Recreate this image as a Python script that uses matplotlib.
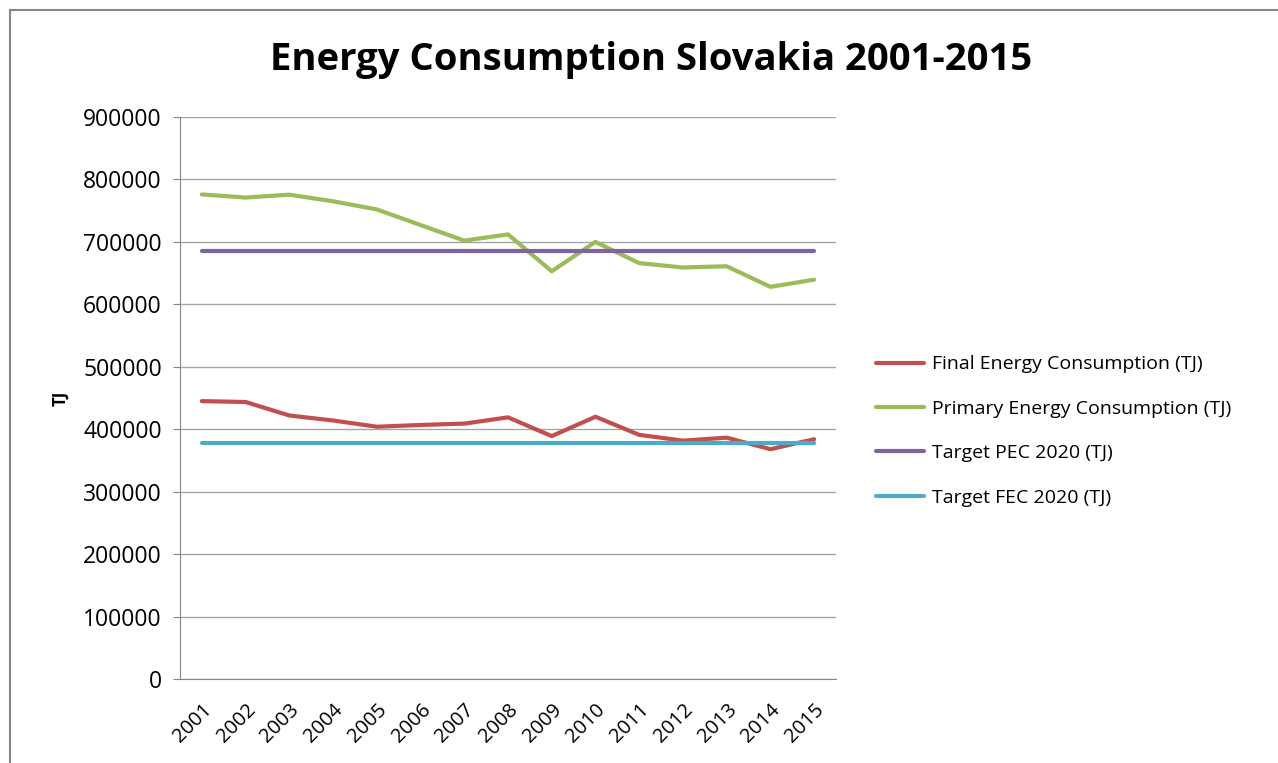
import matplotlib.pyplot as plt
from matplotlib.patches import Rectangle

years = ['2001', '2002', '2003', '2004', '2005', '2006', '2007', '2008',
         '2009', '2010', '2011', '2012', '2013', '2014', '2015']
final_ec = [445000, 443600, 422000, 414000, 404000, 406800, 409000, 419000,
            389000, 420000, 391000, 381700, 386500, 368000, 384000]
primary_ec = [776000, 771000, 775600, 765000, 752000, 727000, 702000, 712000,
              653000, 700000, 666000, 659000, 661000, 628000, 639500]
target_pec = 686000
target_fec = 378000

plt.rcParams['font.family'] = ['Open Sans', 'DejaVu Sans']

fig = plt.figure(figsize=(12.78, 7.63), dpi=100)
W, H = 1278, 763

# outer chart frame
fig.patches.append(Rectangle((10 / W, -0.05), 1.2, 1 - 10 / H + 0.05,
                             transform=fig.transFigure, fill=False,
                             edgecolor='#868686', lw=1.5))

ax = fig.add_axes([180 / W, (H - 679) / H, (836 - 180) / W, (679 - 117) / H])

x = list(range(len(years)))
ax.plot(x, final_ec, color='#C0504D', lw=3, label='Final Energy Consumption (TJ)', solid_capstyle='round')
ax.plot(x, primary_ec, color='#9BBB59', lw=3, label='Primary Energy Consumption (TJ)', solid_capstyle='round')
ax.plot(x, [target_pec] * len(x), color='#8064A2', lw=3, label='Target PEC 2020 (TJ)', solid_capstyle='round')
ax.plot(x, [target_fec] * len(x), color='#4BACC6', lw=3, label='Target FEC 2020 (TJ)', solid_capstyle='round')

ax.set_xlim(-0.5, len(years) - 0.5)
ax.set_ylim(0, 900000)
ax.set_yticks(range(0, 900001, 100000))
ax.set_yticklabels([str(v) for v in range(0, 900001, 100000)], fontsize=16.5)
ax.set_xticks(x)
ax.set_xticklabels(years, fontsize=14.5, rotation=45, ha='right',
                   rotation_mode='anchor')
ax.tick_params(axis='x', length=0, pad=15)
ax.tick_params(axis='y', length=5, color='#868686', pad=8)

ax.grid(axis='y', color='#a6a6a6', lw=1)
ax.set_axisbelow(True)
for s in ['top', 'right']:
    ax.spines[s].set_visible(False)
for s in ['left', 'bottom']:
    ax.spines[s].set_color('#868686')

ax.set_ylabel('TJ', fontsize=12, fontweight='bold', labelpad=10)

fig.text(651 / W, 1 - 60 / H, 'Energy Consumption Slovakia 2001-2015',
         ha='center', va='center', fontsize=27.5, fontweight='bold')

fig.legend(loc='center left', bbox_to_anchor=(858 / W, 1 - 431 / H),
           frameon=False, fontsize=14, handlelength=2.5, labelspacing=1.36,
           handletextpad=0.4)

fig.savefig('out.png', dpi=100)
